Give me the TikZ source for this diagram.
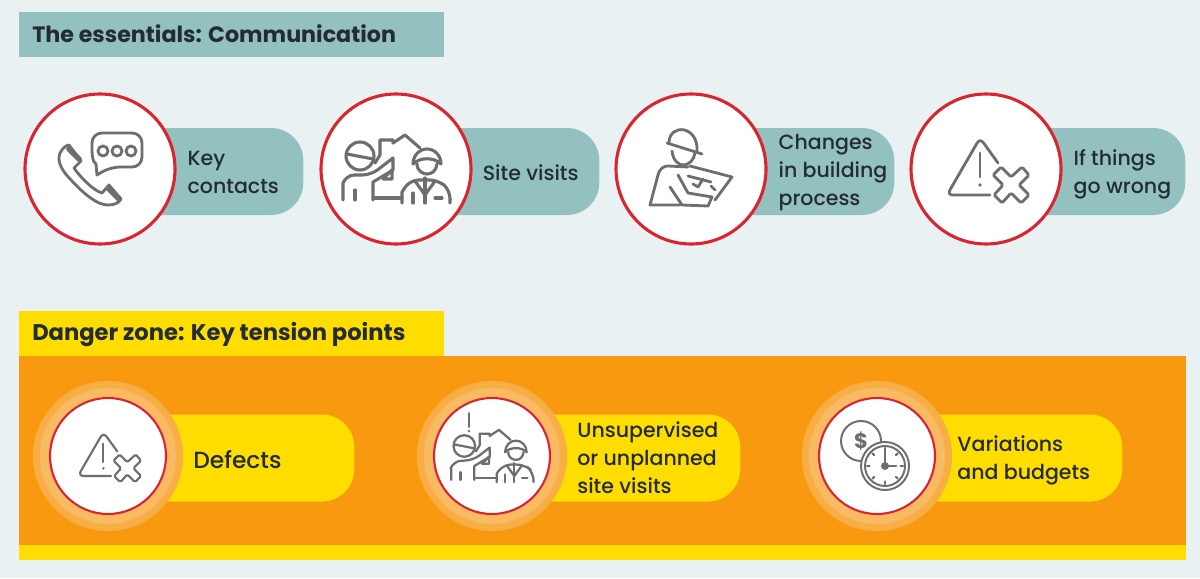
\documentclass[tikz,border=0pt]{standalone}
\usepackage{fontspec}
\setmainfont{Poppins Medium}[BoldFont={Poppins Bold}]
\usetikzlibrary{positioning}
\definecolor{paper}{HTML}{EAF1F2}
\definecolor{teal}{HTML}{93C1BF}
\definecolor{sun}{HTML}{FFDD00}
\definecolor{amber}{HTML}{F9990F}
\definecolor{haloA}{HTML}{F7AE45}
\definecolor{haloB}{HTML}{F8BA62}
\definecolor{ring}{HTML}{DA2530}
\definecolor{ink}{HTML}{232B35}
\definecolor{icongray}{HTML}{6E6E6E}
\newcommand{\px}{0.025cm}
\newcommand{\lblfont}{\fontsize{14.6}{19.9}\selectfont}
\newcommand{\headfont}{\fontsize{15.8}{19.9}\selectfont\bfseries}
\tikzset{
  head/.style={rectangle, draw=none, minimum width=425*\px, minimum height=45*\px,
               anchor=north west, inner sep=0pt},
  headtxt/.style={anchor=west, inner sep=0pt, text=ink, font=\headfont},
  pill/.style={rectangle, rounded corners=23pt, draw=none, minimum height=87*\px,
               anchor=west, inner sep=0pt},
  lbl/.style={inner sep=0pt, align=left, text=ink, font=\lblfont},
  disc/.style={circle, fill=white, draw=ring, line width=2.2pt, minimum size=150*\px},
  discS/.style={circle, fill=white, draw=ring, line width=1.5pt, minimum size=116*\px},
  halo/.style={circle, draw=none, fill=#1, inner sep=0pt},
  icon/.style={draw=icongray, line cap=round, line join=round},
  %% icons, drawn round the centre of their disc
  pics/phone/.style={code={
    \draw[icon] (-34,-23) .. controls (-46,-14) and (-42,-2) .. (-28,12)
      .. controls (-14,27) and (-2,36) .. (8,36) .. controls (14,36) and (19,34) .. (21,30)
      -- (9,16) -- (2,24) .. controls (-6,22) and (-20,8) .. (-26,-1) -- (-19,-8) -- (-31,-24) -- cycle;
    \draw[icon, line width=4pt, line cap=round] (-31,-20) -- (-21,-10);
    \draw[icon, line width=4pt, line cap=round] (9,20) -- (19,30);
    \draw[icon] (-8,-20) [rounded corners=7pt] -- (-8,-36) -- (42,-36) -- (42,-2) -- (10,-2)
      [sharp corners] -- (-3,6) -- (-4,-5) .. controls (-7,-7) and (-8,-12) .. cycle;
    \foreach \cx in {3,17,31} \draw[icon] (\cx,-18) circle[radius=5];
  }},
  pics/visit/.style={code={
    %% worker
    \draw[icon] (-36,-13) circle[radius=14];
    \draw[icon] (-49,-15) -- (-23,-10);
    \draw[icon] (-53,31) -- (-53,14) [rounded corners=6pt] -- (-50,6) -- (-25,6) [sharp corners] -- (-3,-11) -- (-3,1) -- (-23,13) -- (-23,31);
    \draw[icon] (-41,21) -- (-41,31);
    %% house
    \draw[icon] (-21,-6) -- (-16,-14) -- (-16,-29) -- (-3,-29) -- (-3,-26) -- (9,-34) -- (24,-21);
    \draw[icon] (-4,1) -- (-4,10) -- (-13,10) -- cycle;
    \draw[icon] (-21,29) -- (6,29);
    %% visitor
    \draw[icon] (17,-5) arc[start angle=180, end angle=360, x radius=14, y radius=15];
    \draw[icon] (17,-5) .. controls (24,-12) and (38,-12) .. (45,-5);
    \draw[icon] (21,-5) .. controls (21,2) and (27,5) .. (31,5) .. controls (36,5) and (40,2) .. (41,-5);
    \draw[icon] (6,34) -- (6,23) [rounded corners=6pt] -- (14,11) -- (42,11) -- (54,21) [sharp corners] -- (54,34);
    \draw[icon] (29,9) -- (29,34);
    \draw[icon] (19,12) -- (29,26) -- (39,12);
    \draw[icon] (17,24) -- (17,34);
    \draw[icon] (39,29) -- (46,29);
  }},
  pics/builder/.style={code={
    \draw[icon] (-22,-26) .. controls (-22,-46) and (8,-44) .. (6,-17);
    \draw[icon] (-24,-26) -- (11,-15);
    \draw[icon] (-19,-18) .. controls (-18,-8) and (-12,-4) .. (-8,-4) .. controls (-2,-4) and (3,-9) .. (4,-16);
    \draw[icon] (-11,36) -- (-41,36) -- (-33,6) .. controls (-31,-1) and (-27,-3) .. (-23,-3) -- (-3,-2);
    \draw[icon] (-21,18) -- (-9,36) -- (17,37) -- (21,28) -- (-3,24) -- (-13,6);
    \draw[icon] (-1,-3) -- (41,8) -- (24,31);
    \draw[icon] (-3,7) -- (20,13);
    \draw[icon] (2,15) -- (7,18) -- (12,10);
    \draw[icon] (20,17) -- (24,21);
  }},
  pics/warnx/.style={code={
    \draw[icon, rounded corners=4pt] (4,26) -- (-39,26) -- (-6,-31) -- (12,-6);
    \draw[icon] (-6,-16) -- (-6,8);
    \fill[icongray] (-6,16) circle[radius=1.8];
    \draw[icon, rounded corners=1pt, shift={(25,16)}] (0,-8) -- (11,-18) -- (18,-10) -- (8,0)
      -- (18,10) -- (10,18) -- (0,8) -- (-9,18) -- (-17,10) -- (-8,0) -- (-18,-10) -- (-10,-18) -- cycle;
  }},
  pics/bang/.style={code={
    \draw[icon] (0,0) -- (0,14);
    \fill[icongray] (0,18) circle[radius=1.4];
  }},
  pics/coinclock/.style={code={
    \draw[icon] (-16,-15) circle[radius=20];
    \node[inner sep=0pt, text=icongray, font=\fontsize{15}{15}\selectfont\bfseries] (dollar) at (-16,-15) {\$};
    \draw[icon, fill=white] (8,10) circle[radius=24];
    \draw[icon] (8,10) circle[radius=20];
    \foreach \ang in {0,45,...,315}
      \draw[icon, line width=1.5pt] (8,10) ++(\ang:15.5) -- ++(\ang:2.5);
    \draw[icon, line width=2pt] (8,-6) -- (8,10) -- (19,10);
    \fill[icongray] (8,10) circle[radius=4];
  }},
}
\begin{document}
\begin{tikzpicture}[x=\px, y=-\px]
  \fill[paper] (0,0) rectangle (1200,578);

  %% Section 1: headline
  \node[head, fill=teal] (headA) at (19,12) {};
  \node[headtxt] (headAtxt) at (32,34) {The essentials: Communication};

  %% Section 1: four discs with their pills
  \node[pill, fill=teal, minimum width=203*\px] (keyP)  at (100,171.5) {};
  \node[pill, fill=teal, minimum width=203*\px] (siteP) at (396,171.5) {};
  \node[pill, fill=teal, minimum width=203*\px] (chgP)  at (691,171.5) {};
  \node[pill, fill=teal, minimum width=199*\px] (ifP)   at (986,171.5) {};

  \node[disc] (keyC)  at (100,169) {};
  \node[disc] (siteC) at (396,169) {};
  \node[disc] (chgC)  at (691,169) {};
  \node[disc] (ifC)   at (986,169) {};

  \node[lbl, right=0.27cm of keyC, yshift=-0.09cm]  (keyT)  {Key\\contacts};
  \node[lbl, right=0.25cm of siteC, yshift=-0.1cm] (siteT) {Site visits};
  \node[lbl, right=0.27cm of chgC, yshift=-0.09cm]  (chgT)  {Changes\\in building\\process};
  \node[lbl, right=0.27cm of ifC, yshift=-0.14cm]   (ifT)   {If things\\go wrong};

  \pic[line width=2pt] at (keyC.center)  {phone};
  \pic[line width=2.2pt] at (siteC.center) {visit};
  \pic[line width=2pt] at (chgC.center)  {builder};
  \pic[line width=2pt] at (ifC.center)   {warnx};

  %% Section 2: headline and band
  \node[head, fill=sun] (headB) at (19,311) {};
  \node[headtxt, font=\fontsize{16.1}{19.9}\selectfont\bfseries] (headBtxt) at (32,335) {Danger zone: Key tension points};
  \node[rectangle, draw=none, fill=amber, minimum width=1167*\px, minimum height=189*\px,
        anchor=north west, inner sep=0pt] (band) at (19,356) {};
  \node[rectangle, draw=none, fill=sun, minimum width=1167*\px, minimum height=15*\px,
        anchor=north west, inner sep=0pt] (strip) at (19,545) {};

  %% Section 2: three discs with halo
  \node[pill, fill=sun, minimum width=246*\px] (defP) at (108,458) {};
  \node[pill, fill=sun, minimum width=248*\px] (unsP) at (492,458) {};
  \node[pill, fill=sun, minimum width=245*\px] (varP) at (877,458) {};

  \foreach \nm/\hx in {defH/108, unsH/492, varH/877} {
    \node[halo=haloA, minimum size=150*\px] (\nm) at (\hx,456) {};
    \node[halo=haloB, minimum size=136*\px] at (\nm.center) {};
  }

  \node[discS] (defC) at (defH.center) {};
  \node[discS] (unsC) at (unsH.center) {};
  \node[discS] (varC) at (varH.center) {};

  \node[lbl, font=\fontsize{16.6}{19.9}\selectfont, right=0.65cm of defC, yshift=-0.1cm] (defT) {Defects};
  \node[lbl, right=0.65cm of unsC, yshift=-0.03cm] (unsT) {Unsupervised\\or unplanned\\site visits};
  \node[lbl, right=0.525cm of varC, yshift=-0.12cm]  (varT) {Variations\\and budgets};

  \pic[scale=.77, line width=1.5pt] at (defC.center) {warnx};
  \pic[scale=.77, line width=1.6pt] at (unsC.center) {visit};
  \pic[line width=1.4pt] at ([shift={(-23,-43)}]unsC.center) {bang};
  \pic[line width=1.4pt] at (varC.center) {coinclock};
\end{tikzpicture}
\end{document}
